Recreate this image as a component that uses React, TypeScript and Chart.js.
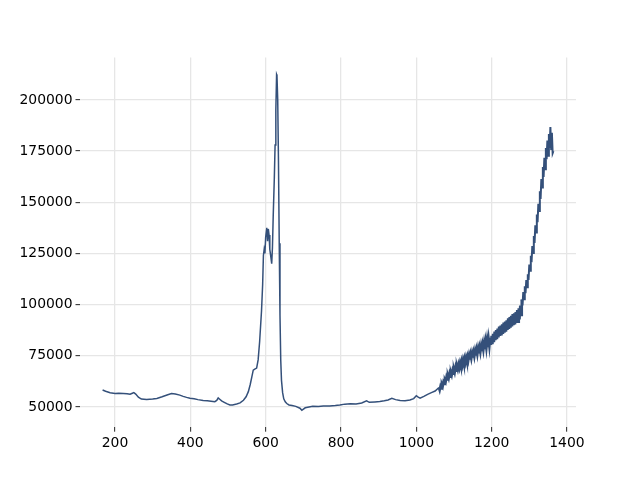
import React, { useEffect, useRef } from "react";
import { Chart, registerables } from "chart.js";

Chart.register(...registerables);

const xValues: number[] = [
  167, 175, 187, 200, 210, 222, 232, 240, 246, 250,
  255, 262, 270, 284, 300, 311, 325, 340, 350, 360,
  372, 381, 390, 399, 410, 420, 434, 445, 455, 465,
  470, 474, 478, 483, 490, 498, 505, 512, 523, 532,
  541, 548, 554, 559, 563, 567, 571, 576, 580, 584,
  589, 592, 594, 596, 598, 600, 603, 605, 607, 609,
  611, 614, 616, 618, 620, 623, 625, 627, 629, 630,
  632, 634, 636, 638, 640, 642, 645, 648, 652, 656,
  662, 670, 680, 691, 696, 705, 715, 725, 740, 753,
  770, 785, 797, 810, 825, 840, 855, 868, 875, 890,
  903, 915, 925, 935, 945, 957, 970, 983, 993, 1000,
  1005, 1010, 1020, 1030, 1040, 1050,
  1060, 1062, 1064, 1066, 1068, 1070, 1072, 1074, 1076, 1078,
  1080, 1082, 1084, 1086, 1088, 1090, 1092, 1094, 1096, 1098,
  1100, 1102, 1104, 1106, 1108, 1110, 1112, 1114, 1116, 1118,
  1120, 1122, 1124, 1126, 1128, 1130, 1132, 1134, 1136, 1138,
  1140, 1142, 1144, 1146, 1148, 1150, 1152, 1154, 1156, 1158,
  1160, 1162, 1164, 1166, 1168, 1170, 1172, 1174, 1176, 1178,
  1180, 1182, 1184, 1186, 1188, 1190, 1192, 1194, 1196, 1198,
  1200, 1202, 1204, 1206, 1208, 1210, 1212, 1214, 1216, 1218,
  1220, 1222, 1224, 1226, 1228, 1230, 1232, 1234, 1236, 1238,
  1240, 1242, 1244, 1246, 1248, 1250, 1252, 1254, 1256, 1258,
  1260, 1262, 1264, 1266, 1268, 1270, 1272, 1274, 1276, 1278,
  1280, 1282, 1284, 1286, 1288, 1290, 1292, 1294, 1296, 1298,
  1300, 1302, 1304, 1306, 1308, 1310, 1312, 1314, 1316, 1318,
  1320, 1322, 1324, 1326, 1328, 1330, 1332, 1334, 1336, 1338,
  1340, 1342, 1344, 1346, 1348, 1350, 1352, 1354, 1356, 1358,
  1360, 1362, 1364,
];

const yValues: number[] = [
  58300, 57700, 57000, 56600, 56700, 56600, 56500, 56200, 56700, 57000,
  56300, 54800, 53900, 53700, 53900, 54200, 55000, 56000, 56600, 56300,
  55800, 55200, 54700, 54300, 54000, 53600, 53200, 53000, 52800, 52600,
  53200, 54400, 53800, 53000, 52300, 51500, 51000, 51000, 51500, 52000,
  53300, 55000, 57500, 61000, 64500, 68000, 68500, 69000, 73000, 82000,
  97000, 110000, 124000, 127000, 125000, 133000, 137500, 131000, 137000, 134000,
  127000, 123000, 120000, 128000, 143000, 162000, 178000, 195000, 212500, 212000,
  200000, 170000, 130000, 95000, 73000, 63000, 57000, 54000, 52500, 51700,
  51000, 50700, 50300, 49400, 48400, 49600, 50000, 50400, 50300, 50500,
  50500, 50700, 51000, 51400, 51600, 51500, 52000, 53000, 52300, 52500,
  52700, 53000, 53400, 54200, 53600, 53200, 53100, 53400, 54100, 55500,
  54800, 54300, 55200, 56200, 57000, 57800,
  59500, 58300, 60000, 59100, 61000, 60100, 62100, 61300, 63200, 62400,
  64500, 63400, 65300, 64100, 66100, 64800, 66800, 65600, 67600, 66300,
  68400, 67000, 69200, 67700, 69900, 68500, 70700, 69200, 71400, 69900,
  72200, 70500, 72800, 71100, 73500, 71800, 74000, 72300, 74500, 72800,
  75100, 73200, 75600, 73700, 76100, 74200, 76600, 74700, 77200, 75200,
  77800, 75700, 78400, 76200, 78900, 76800, 79600, 77300, 80200, 77900,
  81000, 78300, 81700, 78800, 82400, 79300, 83100, 79800, 83800, 80300,
  84700, 80700, 85700, 81700, 86900, 82700, 87600, 83200, 88300, 84000,
  89300, 84700, 89800, 85000, 90400, 85700, 91200, 86300, 91700, 86800,
  92400, 87600, 93300, 88200, 93900, 88700, 94500, 89400, 95400, 90000,
  95800, 90300, 96400, 91100, 97300, 91700, 98200, 92800, 99600, 95000,
  102500, 99600, 106200, 102700, 109000, 105600, 112000, 108500, 114800, 112100,
  119600, 116600, 123900, 120700, 128600, 125200, 133600, 130200, 138800, 135200,
  144100, 140300, 149300, 145700, 155400, 151600, 161400, 157200, 167300, 162400,
  171800, 166200, 176500, 171000, 180200, 172800, 183400, 176600, 186800, 176000,
  184000, 174000, 175000,
];

const xTicks: number[] = [200, 400, 600, 800, 1000, 1200, 1400];
const yTicks: number[] = [50000, 75000, 100000, 125000, 150000, 175000, 200000];

const X_MIN = 107;
const X_MAX = 1424;
const Y_MIN = 40130;
const Y_MAX = 220700;
const NOISY_FROM = 1060;
const STEEP_FROM = 1280;

export default function App() {
  const canvasRef = useRef<HTMLCanvasElement | null>(null);

  useEffect(() => {
    const canvas = canvasRef.current;
    if (!canvas) return;
    const points = xValues.map((x, i) => ({ x, y: yValues[i] }));
    const font = { family: "'DejaVu Sans', sans-serif", size: 13.9 };
    const chart = new Chart(canvas, {
      type: "line",
      data: {
        datasets: [
          {
            data: points,
            borderColor: "#34507a",
            borderWidth: 1.5,
            pointRadius: 0,
            tension: 0,
            fill: false,
            segment: {
              borderWidth: (ctx: any) => {
                const x = ctx.p0.parsed.x;
                if (x >= STEEP_FROM) return 2;
                if (x >= NOISY_FROM) return 2.6;
                return undefined;
              },
            },
          },
        ],
      },
      options: {
        animation: false,
        responsive: false,
        maintainAspectRatio: false,
        layout: { padding: { left: 0, top: 57.6, right: 64, bottom: 0 } },
        plugins: {
          legend: { display: false },
          tooltip: { enabled: false },
          title: { display: false },
        },
        scales: {
          x: {
            type: "linear",
            min: X_MIN,
            max: X_MAX,
            border: { display: false },
            grid: {
              color: "#e6e6e6",
              lineWidth: 1.3,
              drawTicks: true,
              tickLength: 4.5,
              tickColor: "#222222",
              tickWidth: 1,
            },
            ticks: {
              color: "#000000",
              font,
              padding: 3,
              maxRotation: 0,
              includeBounds: false,
              callback: (v: any) => String(v),
            },
            afterBuildTicks: (scale: any) => {
              scale.ticks = xTicks.map((v) => ({ value: v }));
            },
            afterFit: (scale: any) => {
              scale.height = 480 - 427.2;
            },
          },
          y: {
            type: "linear",
            min: Y_MIN,
            max: Y_MAX,
            border: { display: false },
            grid: {
              color: "#e6e6e6",
              lineWidth: 1.3,
              drawTicks: true,
              tickLength: 4.5,
              tickColor: "#222222",
              tickWidth: 1,
            },
            ticks: {
              color: "#000000",
              font,
              padding: 3,
              includeBounds: false,
              callback: (v: any) => String(v),
            },
            afterBuildTicks: (scale: any) => {
              scale.ticks = yTicks.map((v) => ({ value: v }));
            },
            afterFit: (scale: any) => {
              scale.width = 80;
            },
          },
        },
      },
    });
    return () => chart.destroy();
  }, []);

  return (
    <div style={{ position: "absolute", left: 0, top: 0, width: 640, height: 480, background: "#ffffff" }}>
      <canvas ref={canvasRef} width={640} height={480} style={{ display: "block", width: 640, height: 480 }} />
    </div>
  );
}
